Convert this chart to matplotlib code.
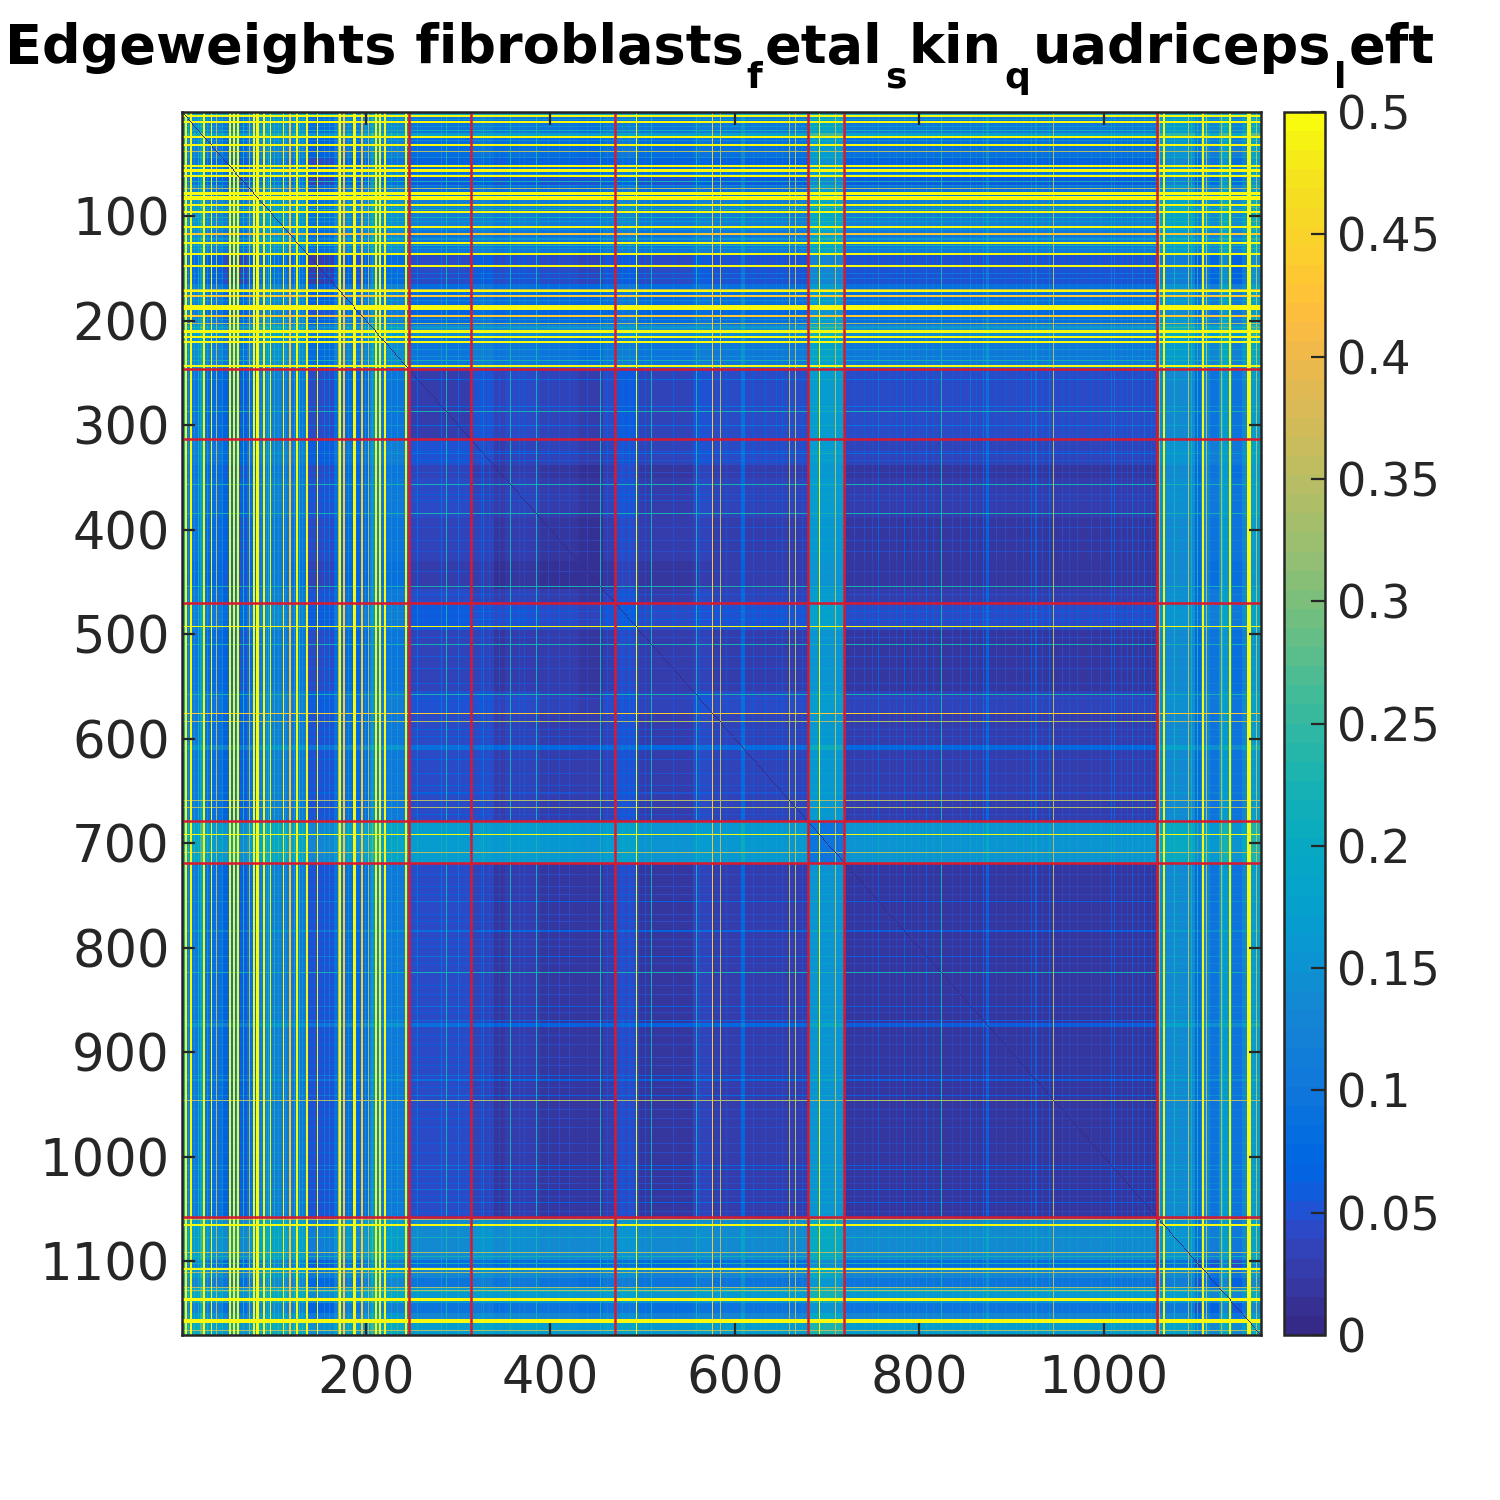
import numpy as np
import matplotlib
matplotlib.use('Agg')
import matplotlib.pyplot as plt
from matplotlib.colors import ListedColormap

# matlab parula, 64 levels
parula = [
    [0.2081, 0.1663, 0.5292], [0.2116, 0.1898, 0.5777], [0.2123, 0.2138, 0.6270], [0.2081, 0.2386, 0.6771],
    [0.1959, 0.2645, 0.7279], [0.1707, 0.2919, 0.7792], [0.1253, 0.3242, 0.8303], [0.0591, 0.3598, 0.8683],
    [0.0117, 0.3875, 0.8820], [0.0060, 0.4086, 0.8828], [0.0165, 0.4266, 0.8786], [0.0329, 0.4430, 0.8720],
    [0.0498, 0.4586, 0.8641], [0.0629, 0.4737, 0.8554], [0.0723, 0.4887, 0.8467], [0.0779, 0.5040, 0.8384],
    [0.0793, 0.5200, 0.8312], [0.0749, 0.5375, 0.8263], [0.0641, 0.5570, 0.8240], [0.0488, 0.5772, 0.8228],
    [0.0343, 0.5966, 0.8199], [0.0265, 0.6137, 0.8135], [0.0239, 0.6287, 0.8038], [0.0231, 0.6418, 0.7913],
    [0.0228, 0.6535, 0.7768], [0.0267, 0.6642, 0.7607], [0.0384, 0.6743, 0.7436], [0.0590, 0.6838, 0.7254],
    [0.0843, 0.6928, 0.7062], [0.1133, 0.7015, 0.6859], [0.1453, 0.7098, 0.6646], [0.1801, 0.7177, 0.6424],
    [0.2178, 0.7250, 0.6193], [0.2586, 0.7317, 0.5954], [0.3022, 0.7376, 0.5712], [0.3482, 0.7424, 0.5473],
    [0.3953, 0.7459, 0.5244], [0.4420, 0.7481, 0.5033], [0.4871, 0.7491, 0.4840], [0.5300, 0.7491, 0.4661],
    [0.5709, 0.7485, 0.4494], [0.6099, 0.7473, 0.4337], [0.6473, 0.7456, 0.4188], [0.6834, 0.7435, 0.4044],
    [0.7184, 0.7411, 0.3905], [0.7525, 0.7384, 0.3768], [0.7858, 0.7356, 0.3633], [0.8185, 0.7327, 0.3498],
    [0.8507, 0.7299, 0.3360], [0.8824, 0.7274, 0.3217], [0.9139, 0.7258, 0.3063], [0.9450, 0.7261, 0.2886],
    [0.9739, 0.7314, 0.2666], [0.9938, 0.7455, 0.2403], [0.9990, 0.7653, 0.2164], [0.9955, 0.7861, 0.1967],
    [0.9880, 0.8066, 0.1794], [0.9789, 0.8271, 0.1633], [0.9697, 0.8481, 0.1475], [0.9626, 0.8705, 0.1309],
    [0.9589, 0.8949, 0.1132], [0.9598, 0.9218, 0.0948], [0.9661, 0.9514, 0.0755], [0.9763, 0.9831, 0.0538],
]

n_cells = 1170
module_edges = [246.5, 313.5, 470.5, 679, 718.5, 1058]

# mean edge weight read per pair of modules
block_values = [
    [0.105, 0.085, 0.090, 0.090, 0.170, 0.090, 0.145],
    [0.085, 0.026, 0.042, 0.045, 0.165, 0.044, 0.130],
    [0.090, 0.042, 0.032, 0.036, 0.165, 0.028, 0.135],
    [0.090, 0.045, 0.036, 0.036, 0.160, 0.028, 0.130],
    [0.170, 0.165, 0.165, 0.160, 0.100, 0.155, 0.190],
    [0.090, 0.044, 0.028, 0.028, 0.155, 0.016, 0.130],
    [0.145, 0.130, 0.135, 0.130, 0.190, 0.130, 0.130],
]

# bands of lighter / darker rows and columns
band_start = [1, 21, 45, 62, 84, 110, 136, 148, 165, 185, 205, 215, 313, 339, 389, 431, 471, 497, 555, 680, 1060, 1085, 1099, 1116, 1125, 1140, 1150, 1160]
band_end = [20, 25, 52, 70, 109, 135, 147, 165, 184, 195, 214, 245, 338, 350, 430, 456, 496, 554, 575, 718, 1084, 1098, 1105, 1124, 1139, 1149, 1159, 1170]
band_offset = [0.015, 0.09, -0.02, -0.03, 0.025, 0.015, -0.04, -0.04, 0.0, -0.015, 0.05, 0.015,
               0.006, -0.008, -0.006, -0.012, 0.012, -0.006, 0.006, 0.0,
               0.01, 0.01, -0.05, -0.03, 0.03, -0.035, 0.0, 0.04]

# single rows / columns, same cells on both axes
yellow_cells = [4, 10, 24, 32, 52, 56, 61, 78, 81, 83, 89, 96, 110, 125, 136, 147, 171,
                186, 188, 210, 215, 220, 243, 1065, 1107, 1136, 1156, 1158]
orange_cells = [117, 176, 195]
thin_yellow_cells = [493, 692]
thin_orange_cells = [576]
lime_cells = [38, 74, 170, 203, 584, 659, 666, 709, 946, 1060, 1092, 1111, 1125, 1128, 1166]
cyan_cells = [3, 18, 67, 94, 101, 128, 238, 287, 357, 385, 454, 510, 558, 824, 1077, 1095, 1102, 1129]
light_cells = [8, 14, 28, 44, 60, 71, 92, 105, 113, 122, 131, 155, 160, 181, 199, 207, 228, 234,
               256, 282, 300, 327, 607, 608, 609, 610, 756, 784, 808, 856, 870, 873, 874, 875,
               922, 926, 927, 941, 1008, 1012, 1031, 1044]
fine_cells = [325, 334, 345, 366, 372, 398, 410, 421, 440, 462, 478, 486, 503, 521, 533, 547, 562, 591, 598,
              620, 633, 645, 652, 673, 730, 741, 749, 768, 775, 792, 799, 815, 836, 845, 862, 884, 893, 905,
              913, 934, 955, 963, 972, 987, 996, 1019, 1026, 1038, 1052]

x_ticks = [200, 400, 600, 800, 1000]
y_ticks = [100, 200, 300, 400, 500, 600, 700, 800, 900, 1000, 1100]
cbar_ticks = [0, 0.05, 0.1, 0.15, 0.2, 0.25, 0.3, 0.35, 0.4, 0.45, 0.5]
cbar_labels = ['0', '0.05', '0.1', '0.15', '0.2', '0.25', '0.3', '0.35', '0.4', '0.45', '0.5']

# the underscores came out as subscripts in the original title
title_parts = ['Edgeweights fibroblasts', 'f', 'etal', 's', 'kin', 'q', 'uadriceps', 'l', 'eft']

# build the matrix from the values above
cells = np.arange(1, n_cells + 1)
module_of = np.searchsorted(module_edges, cells)
weights = np.array(block_values)[np.ix_(module_of, module_of)]

offset = np.zeros(n_cells)
for a, b, v in zip(band_start, band_end, band_offset):
    offset[a - 1:b] += v
for c in light_cells:
    offset[c - 1] += 0.045
for c in fine_cells:
    offset[c - 1] += 0.018
weights = weights + offset[:, None] + offset[None, :]

# strong lines are about two cells wide in the picture, pale ones one
stripe_groups = [(cyan_cells, 0.22, 1), (lime_cells, 0.34, 1), (thin_orange_cells, 0.43, 1),
                 (thin_yellow_cells, 0.5, 1), (orange_cells, 0.43, 2), (yellow_cells, 0.5, 2)]
for group, val, width in stripe_groups:
    for c in group:
        weights[c - 1:c - 1 + width, :] = np.maximum(weights[c - 1:c - 1 + width, :], val)
        weights[:, c - 1:c - 1 + width] = np.maximum(weights[:, c - 1:c - 1 + width], val)
weights = np.clip(weights, 0.004, 0.5)
np.fill_diagonal(weights, 0)

dark = '#262626'
fig = plt.figure(figsize=(15, 15), dpi=100)
ax = fig.add_axes([182 / 1500, 1 - 1335 / 1500, 1079 / 1500, 1223 / 1500])
im = ax.imshow(weights, cmap=ListedColormap(parula), vmin=0, vmax=0.5, aspect='auto',
               extent=(0.5, n_cells + 0.5, n_cells + 0.5, 0.5), interpolation='nearest')

for edge in module_edges:
    ax.axvline(edge, color='#d81a30', lw=1.8)
    ax.axhline(edge, color='#d81a30', lw=1.8)

ax.set_xticks(x_ticks)
ax.set_yticks(y_ticks)
ax.tick_params(direction='in', length=9, width=1.6, top=True, right=True, color=dark,
               labelcolor=dark, labelsize=36.8)
ax.tick_params(axis='x', pad=14)
ax.tick_params(axis='y', pad=9)
for s in ax.spines.values():
    s.set_linewidth(1.8)
    s.set_color(dark)

cax = fig.add_axes([1284 / 1500, 1 - 1335 / 1500, 41 / 1500, 1223 / 1500])
cb = fig.colorbar(im, cax=cax, ticks=cbar_ticks)
cb.set_ticklabels(cbar_labels)
cb.ax.tick_params(direction='in', length=10, width=1.6, color=dark, labelcolor=dark, labelsize=33.3, pad=9)
cb.outline.set_linewidth(1.8)
cb.outline.set_edgecolor(dark)

# title laid out piece by piece so the subscripts sit low like in the original
renderer = fig.canvas.get_renderer()
x_px = 5
for i, part in enumerate(title_parts):
    is_sub = i % 2 == 1
    t = fig.text(x_px / 1500, 1 - (88 if is_sub else 63) / 1500, part, fontsize=26 if is_sub else 39,
                 fontweight='bold', color='black', ha='left', va='baseline')
    x_px = t.get_window_extent(renderer).x1 + 2.5

fig.savefig('out.png', dpi=100)
